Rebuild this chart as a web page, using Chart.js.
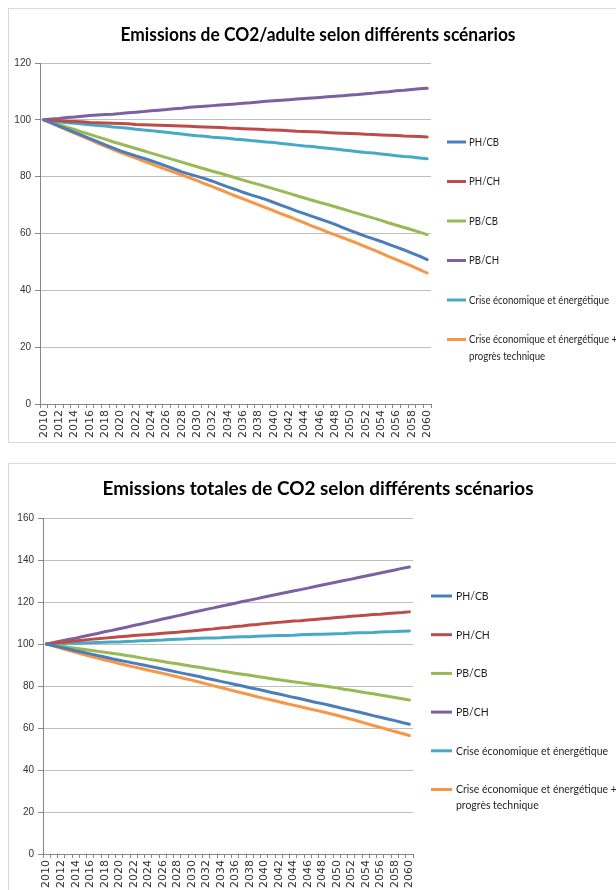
<!DOCTYPE html>
<html lang="fr">
<head>
  <meta charset="utf-8" />
  <title>Emissions de CO2 selon différents scénarios</title>
  <style>
    html, body { margin: 0; padding: 0; background: #fff; }
    body { width: 616px; height: 890px; overflow: hidden; position: relative; }
    .box { position: absolute; left: 8px; border: 1px solid #d9d9d9; }
    #box1 { top: 8px; }
    #box2 { top: 463px; }
    canvas { display: block; }
  </style>
</head>
<body>
  <div class="box" id="box1"><canvas id="chartAdult" width="618" height="433"></canvas></div>
  <div class="box" id="box2"><canvas id="chartTotal" width="618" height="440"></canvas></div>
  <script src="https://cdn.jsdelivr.net/npm/chart.js@4.4.1/dist/chart.umd.min.js"></script>
  <script>
  const years = [
    "2010", "2011", "2012", "2013", "2014", "2015", "2016", "2017", "2018", "2019",
    "2020", "2021", "2022", "2023", "2024", "2025", "2026", "2027", "2028", "2029",
    "2030", "2031", "2032", "2033", "2034", "2035", "2036", "2037", "2038", "2039",
    "2040", "2041", "2042", "2043", "2044", "2045", "2046", "2047", "2048", "2049",
    "2050", "2051", "2052", "2053", "2054", "2055", "2056", "2057", "2058", "2059", "2060"
  ];
  const seriesNames = [
    "PH/CB",
    "PH/CH",
    "PB/CB",
    "PB/CH",
    "Crise économique et énergétique",
    "Crise économique et énergétique + progrès technique"
  ];
  const seriesColors = ["#4a7ebb", "#be4b48", "#98b954", "#7d60a0", "#46aac5", "#f79646"];

  // Emissions de CO2 par adulte (base 100 en 2010)
  const adultPHCB = [
    100, 98.9, 97.8, 96.7, 95.6, 94.5, 93.4, 92.3, 91.2, 90.1,
    89.1, 88.2, 87.3, 86.5, 85.6, 84.7, 83.7, 82.7, 81.7, 80.9,
    80.1, 79.3, 78.4, 77.4, 76.4, 75.5, 74.5, 73.6, 72.8, 71.9,
    70.9, 69.9, 68.9, 67.9, 67.0, 66.0, 65.1, 64.2, 63.2, 62.1,
    61.0, 60.0, 59.0, 58.1, 57.2, 56.2, 55.2, 54.2, 53.1, 52.0, 50.8
  ];
  const adultPHCH = [
    100, 99.8, 99.7, 99.5, 99.4, 99.3, 99.1, 99.0, 98.9, 98.8,
    98.7, 98.6, 98.4, 98.3, 98.2, 98.1, 98.0, 97.9, 97.8, 97.7,
    97.6, 97.5, 97.4, 97.3, 97.1, 97.0, 96.9, 96.8, 96.7, 96.5,
    96.4, 96.3, 96.2, 96.0, 95.9, 95.8, 95.7, 95.5, 95.4, 95.3,
    95.2, 95.1, 94.9, 94.8, 94.7, 94.6, 94.5, 94.3, 94.2, 94.1, 94.0
  ];
  const adultPBCB = [
    100, 99.1, 98.3, 97.4, 96.6, 95.7, 94.9, 94.0, 93.2, 92.3,
    91.5, 90.7, 89.9, 89.1, 88.3, 87.5, 86.7, 85.9, 85.1, 84.3,
    83.5, 82.7, 81.9, 81.2, 80.4, 79.6, 78.8, 78.0, 77.3, 76.5,
    75.7, 74.9, 74.1, 73.3, 72.5, 71.7, 70.9, 70.2, 69.4, 68.6,
    67.8, 67.0, 66.2, 65.4, 64.6, 63.7, 62.9, 62.1, 61.3, 60.5, 59.6
  ];
  const adultPBCH = [
    100, 100.3, 100.5, 100.8, 101.0, 101.3, 101.5, 101.7, 101.9, 102.0,
    102.2, 102.5, 102.7, 102.9, 103.2, 103.4, 103.6, 103.9, 104.1, 104.4,
    104.6, 104.8, 105.0, 105.2, 105.4, 105.6, 105.8, 106.0, 106.3, 106.5,
    106.7, 106.9, 107.1, 107.3, 107.5, 107.7, 107.9, 108.1, 108.3, 108.5,
    108.7, 108.9, 109.2, 109.4, 109.7, 109.9, 110.2, 110.4, 110.7, 110.9, 111.1
  ];
  const adultCrise = [
    100, 99.6, 99.3, 99.0, 98.8, 98.5, 98.3, 98.0, 97.8, 97.5,
    97.3, 97.0, 96.7, 96.4, 96.2, 95.9, 95.6, 95.3, 95.0, 94.7,
    94.4, 94.2, 93.9, 93.7, 93.5, 93.2, 93.0, 92.7, 92.5, 92.2,
    92.0, 91.7, 91.4, 91.1, 90.8, 90.6, 90.3, 90.0, 89.7, 89.4,
    89.1, 88.8, 88.5, 88.3, 88.0, 87.7, 87.4, 87.1, 86.9, 86.6, 86.3
  ];
  const adultCriseTech = [
    100, 98.8, 97.6, 96.5, 95.3, 94.2, 93.0, 91.8, 90.7, 89.6,
    88.5, 87.5, 86.5, 85.5, 84.5, 83.5, 82.5, 81.5, 80.6, 79.6,
    78.6, 77.5, 76.5, 75.4, 74.3, 73.2, 72.2, 71.1, 70.1, 69.0,
    68.0, 66.9, 65.9, 64.8, 63.7, 62.6, 61.6, 60.5, 59.5, 58.5,
    57.5, 56.4, 55.3, 54.2, 53.1, 51.9, 50.8, 49.7, 48.5, 47.3, 46.1
  ];

  // Emissions totales de CO2 (base 100 en 2010)
  const totalPHCB = [
    100, 99.2, 98.4, 97.6, 96.8, 96.1, 95.3, 94.5, 93.8, 93.0,
    92.3, 91.6, 90.9, 90.2, 89.5, 88.8, 88.1, 87.4, 86.6, 85.9,
    85.2, 84.5, 83.7, 83.0, 82.2, 81.5, 80.7, 80.0, 79.2, 78.5,
    77.7, 76.9, 76.2, 75.4, 74.6, 73.9, 73.1, 72.3, 71.6, 70.8,
    70.0, 69.2, 68.4, 67.6, 66.8, 65.9, 65.1, 64.3, 63.5, 62.6, 61.8
  ];
  const totalPHCH = [
    100, 100.4, 100.8, 101.1, 101.5, 101.8, 102.2, 102.5, 102.8, 103.1,
    103.4, 103.7, 104.0, 104.3, 104.5, 104.8, 105.1, 105.4, 105.6, 105.9,
    106.2, 106.5, 106.9, 107.2, 107.6, 107.9, 108.3, 108.6, 109.0, 109.3,
    109.7, 110.0, 110.3, 110.6, 110.9, 111.1, 111.4, 111.7, 112.0, 112.3,
    112.6, 112.9, 113.2, 113.4, 113.7, 114.0, 114.2, 114.5, 114.8, 115.0, 115.3
  ];
  const totalPBCB = [
    100, 99.5, 99.0, 98.5, 98.0, 97.5, 97.0, 96.5, 96.1, 95.6,
    95.1, 94.5, 94.0, 93.4, 92.8, 92.3, 91.7, 91.1, 90.6, 90.0,
    89.4, 88.9, 88.3, 87.8, 87.2, 86.7, 86.1, 85.6, 85.1, 84.5,
    84.0, 83.5, 83.0, 82.5, 82.0, 81.6, 81.1, 80.6, 80.1, 79.6,
    79.1, 78.5, 78.0, 77.4, 76.8, 76.3, 75.7, 75.1, 74.5, 73.9, 73.3
  ];
  const totalPBCH = [
    100, 100.7, 101.4, 102.1, 102.8, 103.6, 104.3, 105.0, 105.8, 106.5,
    107.3, 108.0, 108.8, 109.5, 110.3, 111.1, 111.9, 112.6, 113.4, 114.2,
    115.0, 115.7, 116.5, 117.2, 118.0, 118.7, 119.4, 120.2, 120.9, 121.6,
    122.4, 123.1, 123.8, 124.5, 125.2, 125.9, 126.6, 127.4, 128.1, 128.8,
    129.5, 130.2, 130.9, 131.7, 132.4, 133.1, 133.8, 134.5, 135.2, 136.0, 136.7
  ];
  const totalCrise = [
    100, 100.1, 100.2, 100.3, 100.4, 100.5, 100.6, 100.7, 100.8, 100.9,
    101.0, 101.2, 101.3, 101.5, 101.6, 101.8, 101.9, 102.1, 102.3, 102.4,
    102.6, 102.7, 102.8, 102.9, 103.0, 103.2, 103.3, 103.4, 103.5, 103.7,
    103.8, 103.9, 104.0, 104.1, 104.2, 104.4, 104.5, 104.6, 104.7, 104.8,
    104.9, 105.0, 105.2, 105.3, 105.4, 105.5, 105.7, 105.8, 105.9, 106.1, 106.2
  ];
  const totalCriseTech = [
    100, 99.0, 98.0, 97.0, 96.1, 95.1, 94.2, 93.3, 92.4, 91.6,
    90.7, 89.9, 89.1, 88.3, 87.5, 86.8, 86.0, 85.2, 84.4, 83.6,
    82.8, 81.9, 81.0, 80.1, 79.3, 78.4, 77.5, 76.7, 75.8, 74.9,
    74.1, 73.3, 72.5, 71.7, 70.9, 70.1, 69.3, 68.5, 67.7, 66.9,
    66.1, 65.1, 64.2, 63.2, 62.2, 61.2, 60.3, 59.3, 58.3, 57.4, 56.4
  ];

  const yTicksAdult = { max: 120, step: 20 };
  const yTicksTotal = { max: 160, step: 20 };

  const FONT = 'Lato, "Open Sans", sans-serif';

  // draw text squeezed horizontally (the source picture is narrow Calibri)
  function squeezed(ctx, text, x, y, sx) {
    ctx.save();
    ctx.translate(x, y);
    ctx.scale(sx, 1);
    ctx.fillText(text, 0, 0);
    ctx.restore();
  }

  // title + Excel-like legend drawn on the canvas
  const decor = {
    id: "decor",
    afterDraw: function (chart, args, o) {
      const ctx = chart.ctx;
      ctx.save();
      ctx.fillStyle = "#000";
      ctx.font = "bold " + o.titleSize + "px " + FONT;
      ctx.textAlign = "center";
      ctx.textBaseline = "middle";
      const tw = ctx.measureText(o.title).width;
      squeezed(ctx, o.title, chart.width / 2, o.titleY, Math.min(1, o.titleWidth / tw));

      ctx.font = o.legendSize + "px " + FONT;
      ctx.textAlign = "left";
      ctx.fillStyle = "#1f1f1f";
      const sx = Math.min(1, o.refWidth / ctx.measureText(seriesNames[4]).width);
      chart.data.datasets.forEach(function (ds, i) {
        const y = o.legendTop + i * o.legendStep;
        ctx.strokeStyle = ds.borderColor;
        ctx.lineWidth = 3;
        ctx.beginPath();
        ctx.moveTo(o.legendX, y);
        ctx.lineTo(o.legendX + o.lineLen, y);
        ctx.stroke();
        const tx = o.legendX + o.lineLen + o.textGap;
        const words = ds.label.split(" ");
        let line = "", ly = y;
        words.forEach(function (w) {
          const test = line ? line + " " + w : w;
          if (line && ctx.measureText(test).width * sx > o.legendWidth) {
            squeezed(ctx, line, tx, ly, sx);
            line = w;
            ly += o.lineGap;
          } else {
            line = test;
          }
        });
        squeezed(ctx, line, tx, ly, sx);
      });
      ctx.restore();
    }
  };

  function makeChart(id, series, yt, box, deco) {
    return new Chart(document.getElementById(id), {
      type: "line",
      data: {
        labels: years,
        datasets: series.map(function (vals, i) {
          return {
            label: seriesNames[i],
            data: vals,
            borderColor: seriesColors[i],
            backgroundColor: seriesColors[i],
            borderWidth: 3,
            pointRadius: 0,
            fill: false,
            tension: 0,
            borderCapStyle: "round",
            borderJoinStyle: "round"
          };
        })
      },
      options: {
        responsive: false,
        animation: false,
        layout: { padding: box.padding },
        plugins: {
          legend: { display: false },
          tooltip: { enabled: false },
          decor: deco
        },
        scales: {
          x: {
            offset: true,
            grid: { drawOnChartArea: false, drawTicks: true, tickLength: 4, tickColor: "#868686", offset: true },
            border: { color: "#868686", width: 1 },
            ticks: {
              autoSkip: false,
              minRotation: 90,
              maxRotation: 90,
              padding: 2,
              color: "#333",
              font: { family: '"DejaVu Sans", sans-serif', size: 11 },
              callback: function (v, i) { return i % 2 === 0 ? this.getLabelForValue(v) : ""; }
            },
            afterFit: function (s) { s.height = box.xHeight; }
          },
          y: {
            min: 0,
            max: yt.max,
            ticks: {
              stepSize: yt.step,
              padding: 4,
              color: "#333",
              font: { family: '"Liberation Sans", Arial, sans-serif', size: 10 }
            },
            grid: { color: "#bfbfbf", tickLength: 5, tickColor: "#868686" },
            border: { color: "#868686", width: 1 },
            afterFit: function (s) { s.width = box.yWidth; }
          }
        }
      },
      plugins: [decor]
    });
  }

  makeChart("chartAdult",
    [adultPHCB, adultPHCH, adultPBCB, adultPBCH, adultCrise, adultCriseTech],
    yTicksAdult,
    { padding: { left: 6, right: 196, top: 54, bottom: 0 }, xHeight: 38, yWidth: 25 },
    {
      title: "Emissions de CO2/adulte selon différents scénarios",
      titleSize: 18, titleY: 26, titleWidth: 395,
      legendSize: 11, refWidth: 140, legendX: 438, lineLen: 19, textGap: 3,
      legendTop: 133, legendStep: 39.5, lineGap: 16.5, legendWidth: 160
    });

  makeChart("chartTotal",
    [totalPHCB, totalPHCH, totalPBCB, totalPBCH, totalCrise, totalCriseTech],
    yTicksTotal,
    { padding: { left: 6, right: 214, top: 54, bottom: 12 }, xHeight: 38, yWidth: 28 },
    {
      title: "Emissions totales de CO2 selon différents scénarios",
      titleSize: 19, titleY: 25, titleWidth: 431,
      legendSize: 12, refWidth: 152, legendX: 422, lineLen: 21, textGap: 4,
      legendTop: 132, legendStep: 38.7, lineGap: 16, legendWidth: 175
    });
  </script>
</body>
</html>
